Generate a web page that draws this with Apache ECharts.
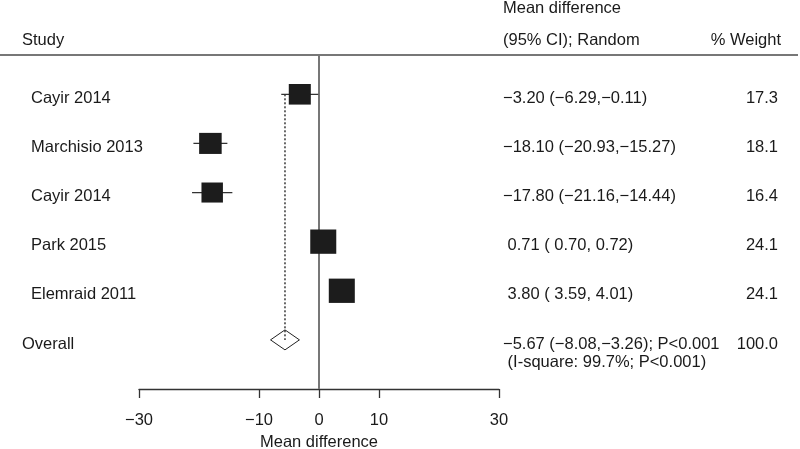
<!DOCTYPE html>
<html><head><meta charset="utf-8">
<script src="https://cdn.jsdelivr.net/npm/echarts@6/dist/echarts.min.js"></script>
<style>html,body{margin:0;padding:0;background:#fff}#c{width:800px;height:449px}</style>
</head><body><div id="c"></div>
<script>
const studies = ['Cayir 2014', 'Marchisio 2013', 'Cayir 2014', 'Park 2015', 'Elemraid 2011'];
const means = [-3.20, -18.10, -17.80, 0.71, 3.80];
const lowers = [-6.29, -20.93, -21.16, 0.70, 3.59];
const uppers = [-0.11, -15.27, -14.44, 0.72, 4.01];
const weights = [17.3, 18.1, 16.4, 24.1, 24.1];
const ciTexts = ['\u22123.20 (\u22126.29,\u22120.11)', '\u221218.10 (\u221220.93,\u221215.27)', '\u221217.80 (\u221221.16,\u221214.44)', ' 0.71 ( 0.70, 0.72)', ' 3.80 ( 3.59, 4.01)'];
const weightTexts = ['17.3', '18.1', '16.4', '24.1', '24.1'];
const overallLabel = 'Overall';
const overallMean = -5.67;
const overallLower = -8.08;
const overallUpper = -3.26;
const overallCiText = '\u22125.67 (\u22128.08,\u22123.26); P<0.001';
const overallHetText = ' (I-square: 99.7%; P<0.001)';
const overallWeightText = '100.0';
const xTicks = [-30, -10, 0, 10, 30];
const headerLeft = 'Study';
const headerMid1 = 'Mean difference';
const headerMid2 = '(95% CI); Random';
const headerRight = '% Weight';
const xAxisName = 'Mean difference';

const FONT = '"Liberation Sans", Arial, Helvetica, sans-serif';
const FS = 16.5;
const TXT = '#1a1a1a';
const overallRow = studies.length;

const chart = echarts.init(document.getElementById('c'), null, {renderer: 'canvas'});

const studyData = studies.map((s, i) => [i, means[i], lowers[i], uppers[i], weights[i]]);
const textRows = studies.map((s, i) => [i]).concat([[overallRow]]);

function txt(x, y, s, align) {
  return {type: 'text', style: {x: x, y: y, text: s, fill: TXT, font: FS + 'px ' + FONT, align: align || 'left', verticalAlign: 'middle'}};
}

const option = {
  animation: false,
  backgroundColor: '#fff',
  grid: {left: 139, width: 360, top: 55, height: 334, containLabel: false, outerBoundsMode: 'none'},
  xAxis: {
    type: 'value', min: -30, max: 30,
    axisLine: {show: true, onZero: false, lineStyle: {color: '#333', width: 1.3}},
    axisTick: {show: true, length: 9, customValues: xTicks, lineStyle: {color: '#333', width: 1.3}},
    axisLabel: {customValues: xTicks, margin: 23, color: TXT, fontSize: FS, fontFamily: FONT,
      formatter: v => (v < 0 ? '\u2212' + Math.abs(v) : String(v))},
    splitLine: {show: false},
    name: xAxisName, nameLocation: 'middle', nameGap: 45,
    nameTextStyle: {color: TXT, fontSize: FS, fontFamily: FONT}
  },
  yAxis: {type: 'value', min: -0.8, max: 6, inverse: true, show: false},
  graphic: [
    {type: 'line', shape: {x1: 0, y1: 55, x2: 798, y2: 55}, style: {stroke: '#777', lineWidth: 2}, z: 10},
    {type: 'text', style: {x: 22, y: 40, text: headerLeft, fill: TXT, font: FS + 'px ' + FONT, verticalAlign: 'middle'}},
    {type: 'text', style: {x: 503, y: 8, text: headerMid1, fill: TXT, font: FS + 'px ' + FONT, verticalAlign: 'middle'}},
    {type: 'text', style: {x: 503, y: 40, text: headerMid2, fill: TXT, font: FS + 'px ' + FONT, verticalAlign: 'middle'}},
    {type: 'text', style: {x: 781, y: 40, text: headerRight, fill: TXT, font: FS + 'px ' + FONT, align: 'right', verticalAlign: 'middle'}}
  ],
  series: [
    {
      type: 'custom', name: 'zero', z: 1, data: [],
      renderItem: () => null,
      markLine: {silent: true, symbol: 'none', label: {show: false},
        lineStyle: {color: '#777', width: 2, type: 'solid'}, data: [{xAxis: 0}]}
    },
    {
      type: 'custom', name: 'overall', z: 3,
      data: [[overallRow, overallMean, overallLower, overallUpper]],
      renderItem: (params, api) => {
        const row = api.value(0), m = api.value(1), lo = api.value(2), hi = api.value(3);
        const c = api.coord([m, row]);
        const l = api.coord([lo, row]);
        const h = api.coord([hi, row]);
        const top = api.coord([m, 0]);
        return {type: 'group', children: [
          {type: 'line', shape: {x1: c[0], y1: top[1], x2: c[0], y2: c[1]}, style: {stroke: '#444', lineWidth: 1.6, lineDash: [2, 2]}},
          {type: 'polygon', shape: {points: [[l[0], c[1]], [c[0], c[1] - 10], [h[0], c[1]], [c[0], c[1] + 10]]},
            style: {fill: 'rgba(0,0,0,0)', stroke: '#222', lineWidth: 1}}
        ]};
      }
    },
    {
      type: 'custom', name: 'studies', z: 5, data: studyData,
      renderItem: (params, api) => {
        const row = api.value(0), m = api.value(1), lo = api.value(2), hi = api.value(3), w = api.value(4);
        const c = api.coord([m, row]);
        const l = api.coord([lo, row]);
        const h = api.coord([hi, row]);
        const sw = 5.3 * Math.sqrt(w), sh = 4.95 * Math.sqrt(w);
        return {type: 'group', children: [
          {type: 'line', shape: {x1: l[0], y1: c[1], x2: h[0], y2: c[1]}, style: {stroke: '#333', lineWidth: 1.2}},
          {type: 'rect', shape: {x: c[0] - sw / 2, y: c[1] - sh / 2, width: sw, height: sh}, style: {fill: '#1c1c1c'}}
        ]};
      }
    },
    {
      type: 'custom', name: 'texts', z: 6, data: textRows,
      renderItem: (params, api) => {
        const row = api.value(0);
        const y = api.coord([0, row])[1];
        if (row < overallRow) {
          return {type: 'group', children: [
            txt(31, y + 4, studies[row]),
            txt(503, y + 4, ciTexts[row]),
            txt(778, y + 4, weightTexts[row], 'right')
          ]};
        }
        return {type: 'group', children: [
          txt(22, y + 5, overallLabel),
          txt(503, y + 5, overallCiText),
          txt(503, y + 23, overallHetText),
          txt(778, y + 5, overallWeightText, 'right')
        ]};
      }
    }
  ]
};
chart.setOption(option);
</script>
</body></html>
